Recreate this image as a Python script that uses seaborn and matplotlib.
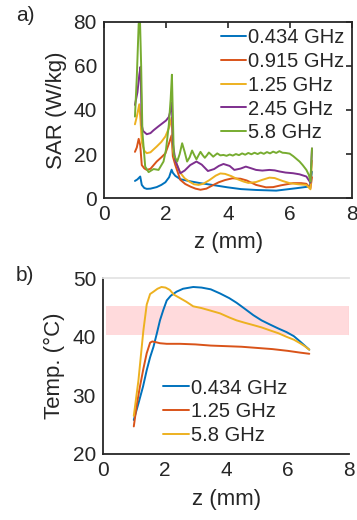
import matplotlib
matplotlib.use("Agg")
import matplotlib.pyplot as plt
import seaborn as sns
import pandas as pd

# ---- panel a: SAR vs depth ----
sar_labels = ["0.434 GHz", "0.915 GHz", "1.25 GHz", "2.45 GHz", "5.8 GHz"]

z_0434 = [1.0, 1.08, 1.17, 1.22, 1.3, 1.38, 1.5, 1.7, 1.85, 1.98, 2.1, 2.18, 2.22, 2.3,
          2.46, 2.79, 3.1, 3.44, 3.98, 4.41, 4.9, 5.55, 6.2, 6.63, 6.7]
sar_0434 = [7.8, 8.5, 9.8, 6.0, 4.6, 4.2, 4.3, 5.0, 6.0, 7.2, 9.5, 12.9, 11.5, 10.1,
            8.6, 7.6, 6.8, 6.1, 4.9, 4.1, 3.7, 3.4, 4.5, 5.3, 12.0]

z_0915 = [1.0, 1.06, 1.12, 1.17, 1.22, 1.3, 1.38, 1.5, 1.7, 1.85, 1.98, 2.1, 2.18, 2.22,
          2.3, 2.46, 2.62, 2.79, 2.95, 3.11, 3.3, 3.5, 3.7, 3.9, 4.14, 4.4, 4.6, 4.9,
          5.22, 5.45, 5.7, 6.09, 6.35, 6.52, 6.65, 6.7]
sar_0915 = [21.0, 23.0, 26.9, 24.0, 15.0, 13.5, 12.8, 13.3, 16.6, 18.5, 20.3, 25.0, 28.5, 19.0,
            15.0, 8.3, 6.4, 5.2, 4.3, 3.8, 4.3, 5.8, 7.2, 8.2, 9.0, 8.8, 8.0, 6.0,
            4.9, 5.0, 5.8, 6.8, 6.8, 6.5, 4.5, 9.5]

z_125 = [1.0, 1.06, 1.14, 1.18, 1.22, 1.3, 1.38, 1.5, 1.7, 1.85, 1.98, 2.1, 2.18, 2.22,
         2.3, 2.46, 2.6, 2.75, 2.9, 3.05, 3.2, 3.4, 3.6, 3.75, 3.9, 4.1, 4.3, 4.5, 4.65,
         4.9, 5.1, 5.33, 5.5, 5.75, 5.98, 6.25, 6.52, 6.65, 6.7]
sar_125 = [33.5, 37.0, 42.6, 35.0, 25.4, 21.5, 20.4, 20.8, 23.4, 25.5, 28.0, 32.0, 36.5, 22.0,
           17.0, 11.5, 9.0, 7.5, 6.3, 6.0, 6.5, 8.2, 10.2, 11.2, 11.0, 10.0, 8.6, 7.5, 6.9,
           7.3, 8.3, 9.3, 9.1, 7.8, 6.8, 6.3, 6.0, 4.0, 17.0]

z_245 = [1.0, 1.08, 1.14, 1.18, 1.22, 1.26, 1.38, 1.5, 1.6, 1.75, 1.87, 2.0, 2.09, 2.15,
         2.19, 2.22, 2.3, 2.46, 2.6, 2.78, 2.98, 3.15, 3.35, 3.55, 3.7, 3.85, 4.05, 4.2,
         4.4, 4.57, 4.75, 4.9, 5.1, 5.33, 5.5, 5.65, 5.85, 6.09, 6.3, 6.52, 6.65, 6.7]
sar_245 = [42.3, 48.0, 56.0, 59.6, 33.0, 30.5, 29.0, 29.5, 30.8, 32.5, 33.8, 35.2, 36.8, 40.0,
           43.5, 25.0, 17.0, 11.3, 12.5, 15.0, 16.6, 15.2, 12.3, 13.2, 14.6, 15.5, 14.6, 12.8,
           13.4, 14.3, 13.5, 12.8, 12.5, 12.8, 12.6, 12.1, 11.6, 11.3, 10.8, 9.8, 7.0, 22.5]

z_58 = [1.0, 1.06, 1.12, 1.16, 1.2, 1.24, 1.33, 1.44, 1.6, 1.76, 1.92, 2.0, 2.09, 2.15,
        2.19, 2.25, 2.36, 2.44, 2.52, 2.6, 2.68, 2.76, 2.84, 2.91, 2.98, 3.05, 3.11, 3.18,
        3.25, 3.32, 3.38, 3.45, 3.52, 3.58, 3.65, 3.75, 3.85, 3.95, 4.05, 4.15, 4.25, 4.35,
        4.45, 4.55, 4.65, 4.75, 4.85, 4.95, 5.05, 5.15, 5.25, 5.35, 5.45, 5.55, 5.65, 5.75,
        5.85, 5.98, 6.1, 6.2, 6.3, 6.4, 6.52, 6.6, 6.65, 6.7]
sar_58 = [37.0, 55.0, 79.0, 82.0, 60.0, 30.0, 14.3, 11.8, 13.2, 12.8, 16.6, 22.0, 33.2, 45.0,
          56.0, 19.6, 16.6, 20.0, 24.9, 21.0, 16.6, 18.5, 21.6, 19.5, 17.6, 19.5, 21.0, 19.5,
          18.3, 19.5, 20.7, 19.8, 18.8, 19.5, 20.3, 19.4, 19.6, 19.2, 19.8, 19.3, 20.0, 19.5,
          20.3, 19.7, 20.5, 19.9, 20.6, 20.0, 20.7, 20.1, 20.9, 20.3, 21.1, 20.5, 21.3, 20.6,
          20.5, 20.2, 19.0, 17.8, 16.6, 15.0, 12.8, 10.5, 7.5, 22.6]

# ---- panel b: temperature vs depth ----
temp_labels = ["0.434 GHz", "1.25 GHz", "5.8 GHz"]

zt_0434 = [1.0, 1.15, 1.3, 1.42, 1.53, 1.64, 1.75, 1.85, 1.96, 2.07, 2.2, 2.39, 2.6, 2.93,
           3.2, 3.5, 3.8, 4.1, 4.34, 4.6, 4.88, 5.15, 5.42, 5.7, 5.96, 6.2, 6.4, 6.55, 6.7]
t_0434 = [25.8, 28.6, 31.5, 34.3, 36.5, 38.3, 40.6, 42.8, 44.6, 46.2, 47.0, 47.7, 48.2, 48.5,
          48.4, 48.1, 47.4, 46.6, 45.8, 44.8, 43.7, 42.8, 42.1, 41.4, 40.8, 40.1, 39.2, 38.5, 37.8]

zt_125 = [1.0, 1.1, 1.2, 1.31, 1.42, 1.53, 1.6, 1.7, 1.85, 2.07, 2.5, 3.0, 3.5, 4.0, 4.5,
          5.0, 5.5, 6.0, 6.4, 6.7]
t_125 = [24.7, 28.5, 31.5, 34.5, 37.2, 39.0, 39.2, 39.1, 38.9, 38.8, 38.8, 38.7, 38.5, 38.4,
         38.3, 38.1, 37.9, 37.6, 37.3, 37.1]

zt_58 = [1.0, 1.15, 1.31, 1.42, 1.53, 1.64, 1.77, 1.9, 2.03, 2.17, 2.3, 2.5, 2.7, 2.93, 3.2,
         3.47, 3.8, 4.1, 4.34, 4.6, 4.88, 5.15, 5.42, 5.7, 5.96, 6.2, 6.4, 6.55, 6.7]
t_58 = [26.5, 32.5, 41.0, 45.5, 47.3, 47.7, 48.2, 48.5, 48.4, 48.0, 47.2, 46.6, 46.0, 45.2,
        44.9, 44.5, 44.0, 43.3, 42.8, 42.4, 42.0, 41.6, 41.1, 40.6, 40.0, 39.5, 38.9, 38.4, 37.8]

# hyperthermia band
band_z = [0.1, 8.0]
band_lo = 40.3
band_hi = 45.3

matlab = ["#0072BD", "#D95319", "#EDB120", "#7E2F8E", "#77AC30"]
dark = "#262626"

sns.set_style("white")
plt.rcParams['font.family'] = ['Liberation Sans', 'DejaVu Sans']
plt.rcParams['text.color'] = dark
plt.rcParams['axes.labelcolor'] = dark
plt.rcParams['xtick.color'] = dark
plt.rcParams['ytick.color'] = dark

df_a = pd.concat([
    pd.DataFrame({"z": z, "v": v, "f": lab})
    for z, v, lab in zip([z_0434, z_0915, z_125, z_245, z_58],
                         [sar_0434, sar_0915, sar_125, sar_245, sar_58], sar_labels)
])
df_b = pd.concat([
    pd.DataFrame({"z": z, "v": v, "f": lab})
    for z, v, lab in zip([zt_0434, zt_125, zt_58], [t_0434, t_125, t_58], temp_labels)
])

fig = plt.figure(figsize=(3.57, 5.2), dpi=100)
ax1 = fig.add_axes([0.291, 0.619, 0.696, 0.339])
ax2 = fig.add_axes([0.2885, 0.127, 0.69, 0.338])

sns.lineplot(data=df_a, x="z", y="v", hue="f", palette=matlab, linewidth=1.4,
             ax=ax1, estimator=None, sort=False)
sns.lineplot(data=df_b, x="z", y="v", hue="f", palette=matlab[:3], linewidth=1.4,
             ax=ax2, estimator=None, sort=False)

ax2.fill_between(band_z, band_lo, band_hi, color="#ffd6d9", alpha=0.9, lw=0, zorder=0)
ax2.vlines(band_z[1], band_lo, band_hi, color="#f09a9f", lw=0.8, zorder=0)

for ax in (ax1, ax2):
    ax.set_xlim(0, 8)
    ax.set_xticks([0, 2, 4, 6, 8])
    ax.tick_params(direction="in", length=4, width=1.2, labelsize=15, pad=5)
    ax.set_xlabel("z (mm)", fontsize=16)
    for s in ax.spines.values():
        s.set_color(dark)
        s.set_linewidth(1.3)

ax1.set_ylim(0, 80)
ax1.set_yticks([0, 20, 40, 60, 80])
ax1.tick_params(top=True, right=True)
ax1.set_ylabel("SAR (W/kg)", fontsize=16)
ax1.xaxis.set_label_coords(0.5, -0.19)
ax1.yaxis.set_label_coords(-0.15, 0.5)

ax2.set_ylim(20, 50)
ax2.set_yticks([20, 30, 40, 50])
ax2.spines["top"].set_color("#e4e4e4")
ax2.spines["right"].set_visible(False)
ax2.set_ylabel("Temp. (°C)", fontsize=16)
ax2.xaxis.set_label_coords(0.5, -0.2)
ax2.yaxis.set_label_coords(-0.155, 0.5)

leg_kw = dict(frameon=False, fontsize=14.5, handlelength=1.25, handletextpad=0.1,
              labelspacing=0.24, borderaxespad=0, borderpad=0)
ax1.legend(loc="upper left", bbox_to_anchor=(0.47, 0.965), **leg_kw)
ax2.legend(loc="lower left", bbox_to_anchor=(0.245, 0.05), **leg_kw)

fig.text(0.045, 0.97, "a)", fontsize=15, va="center")
fig.text(0.045, 0.47, "b)", fontsize=15, va="center")

fig.savefig("out.png", dpi=100)
